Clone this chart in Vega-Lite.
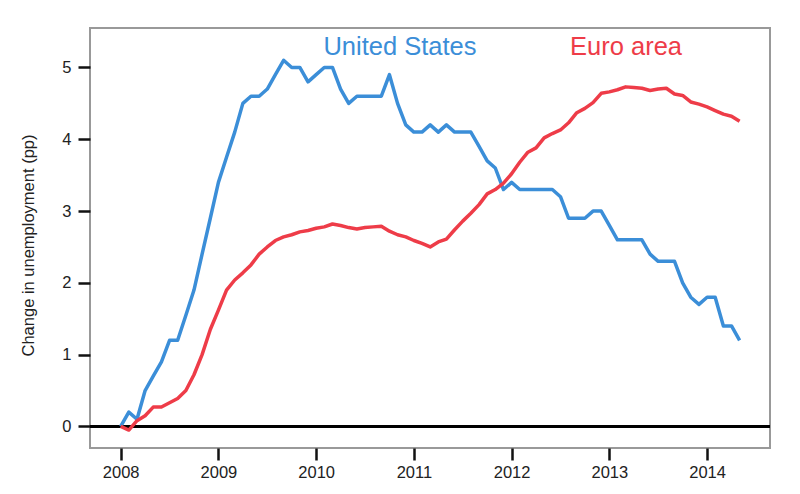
{
  "$schema": "https://vega.github.io/schema/vega-lite/v6.json",
  "autosize": {"type": "none"},
  "width": 680,
  "height": 420,
  "padding": {"left": 90, "top": 28, "right": 30, "bottom": 46},
  "background": "white",
  "config": {
    "font": "Liberation Sans",
    "view": {"stroke": "#999999", "strokeWidth": 2},
    "axis": {"grid": false, "domain": false, "tickColor": "#111111", "tickWidth": 2.5, "tickSize": 12, "labelFontSize": 16.5, "labelColor": "#222222", "labelFont": "Liberation Sans", "titleFont": "Liberation Sans", "titleFontWeight": "normal", "titleColor": "#222222"}
  },
  "datasets": {
    "series": [
      {"date": 2008.000, "country": "United States", "value": 0},
      {"date": 2008.083, "country": "United States", "value": 0.2},
      {"date": 2008.167, "country": "United States", "value": 0.1},
      {"date": 2008.250, "country": "United States", "value": 0.5},
      {"date": 2008.333, "country": "United States", "value": 0.7},
      {"date": 2008.417, "country": "United States", "value": 0.9},
      {"date": 2008.500, "country": "United States", "value": 1.2},
      {"date": 2008.583, "country": "United States", "value": 1.2},
      {"date": 2008.667, "country": "United States", "value": 1.55},
      {"date": 2008.750, "country": "United States", "value": 1.9},
      {"date": 2008.833, "country": "United States", "value": 2.4},
      {"date": 2008.917, "country": "United States", "value": 2.9},
      {"date": 2009.000, "country": "United States", "value": 3.4},
      {"date": 2009.083, "country": "United States", "value": 3.75},
      {"date": 2009.167, "country": "United States", "value": 4.1},
      {"date": 2009.250, "country": "United States", "value": 4.5},
      {"date": 2009.333, "country": "United States", "value": 4.6},
      {"date": 2009.417, "country": "United States", "value": 4.6},
      {"date": 2009.500, "country": "United States", "value": 4.7},
      {"date": 2009.583, "country": "United States", "value": 4.9},
      {"date": 2009.667, "country": "United States", "value": 5.1},
      {"date": 2009.750, "country": "United States", "value": 5.0},
      {"date": 2009.833, "country": "United States", "value": 5.0},
      {"date": 2009.917, "country": "United States", "value": 4.8},
      {"date": 2010.000, "country": "United States", "value": 4.9},
      {"date": 2010.083, "country": "United States", "value": 5.0},
      {"date": 2010.167, "country": "United States", "value": 5.0},
      {"date": 2010.250, "country": "United States", "value": 4.7},
      {"date": 2010.333, "country": "United States", "value": 4.5},
      {"date": 2010.417, "country": "United States", "value": 4.6},
      {"date": 2010.500, "country": "United States", "value": 4.6},
      {"date": 2010.583, "country": "United States", "value": 4.6},
      {"date": 2010.667, "country": "United States", "value": 4.6},
      {"date": 2010.750, "country": "United States", "value": 4.9},
      {"date": 2010.833, "country": "United States", "value": 4.5},
      {"date": 2010.917, "country": "United States", "value": 4.2},
      {"date": 2011.000, "country": "United States", "value": 4.1},
      {"date": 2011.083, "country": "United States", "value": 4.1},
      {"date": 2011.167, "country": "United States", "value": 4.2},
      {"date": 2011.250, "country": "United States", "value": 4.1},
      {"date": 2011.333, "country": "United States", "value": 4.2},
      {"date": 2011.417, "country": "United States", "value": 4.1},
      {"date": 2011.500, "country": "United States", "value": 4.1},
      {"date": 2011.583, "country": "United States", "value": 4.1},
      {"date": 2011.667, "country": "United States", "value": 3.9},
      {"date": 2011.750, "country": "United States", "value": 3.7},
      {"date": 2011.833, "country": "United States", "value": 3.6},
      {"date": 2011.917, "country": "United States", "value": 3.3},
      {"date": 2012.000, "country": "United States", "value": 3.4},
      {"date": 2012.083, "country": "United States", "value": 3.3},
      {"date": 2012.167, "country": "United States", "value": 3.3},
      {"date": 2012.250, "country": "United States", "value": 3.3},
      {"date": 2012.333, "country": "United States", "value": 3.3},
      {"date": 2012.417, "country": "United States", "value": 3.3},
      {"date": 2012.500, "country": "United States", "value": 3.2},
      {"date": 2012.583, "country": "United States", "value": 2.9},
      {"date": 2012.667, "country": "United States", "value": 2.9},
      {"date": 2012.750, "country": "United States", "value": 2.9},
      {"date": 2012.833, "country": "United States", "value": 3.0},
      {"date": 2012.917, "country": "United States", "value": 3.0},
      {"date": 2013.000, "country": "United States", "value": 2.8},
      {"date": 2013.083, "country": "United States", "value": 2.6},
      {"date": 2013.167, "country": "United States", "value": 2.6},
      {"date": 2013.250, "country": "United States", "value": 2.6},
      {"date": 2013.333, "country": "United States", "value": 2.6},
      {"date": 2013.417, "country": "United States", "value": 2.4},
      {"date": 2013.500, "country": "United States", "value": 2.3},
      {"date": 2013.583, "country": "United States", "value": 2.3},
      {"date": 2013.667, "country": "United States", "value": 2.3},
      {"date": 2013.750, "country": "United States", "value": 2.0},
      {"date": 2013.833, "country": "United States", "value": 1.8},
      {"date": 2013.917, "country": "United States", "value": 1.7},
      {"date": 2014.000, "country": "United States", "value": 1.8},
      {"date": 2014.083, "country": "United States", "value": 1.8},
      {"date": 2014.167, "country": "United States", "value": 1.4},
      {"date": 2014.250, "country": "United States", "value": 1.4},
      {"date": 2014.333, "country": "United States", "value": 1.2},
      {"date": 2008.000, "country": "Euro area", "value": 0},
      {"date": 2008.083, "country": "Euro area", "value": -0.05},
      {"date": 2008.167, "country": "Euro area", "value": 0.08},
      {"date": 2008.250, "country": "Euro area", "value": 0.15},
      {"date": 2008.333, "country": "Euro area", "value": 0.27},
      {"date": 2008.417, "country": "Euro area", "value": 0.27},
      {"date": 2008.500, "country": "Euro area", "value": 0.33},
      {"date": 2008.583, "country": "Euro area", "value": 0.39},
      {"date": 2008.667, "country": "Euro area", "value": 0.5},
      {"date": 2008.750, "country": "Euro area", "value": 0.72},
      {"date": 2008.833, "country": "Euro area", "value": 1.0},
      {"date": 2008.917, "country": "Euro area", "value": 1.35},
      {"date": 2009.000, "country": "Euro area", "value": 1.62},
      {"date": 2009.083, "country": "Euro area", "value": 1.9},
      {"date": 2009.167, "country": "Euro area", "value": 2.04},
      {"date": 2009.250, "country": "Euro area", "value": 2.14},
      {"date": 2009.333, "country": "Euro area", "value": 2.25},
      {"date": 2009.417, "country": "Euro area", "value": 2.4},
      {"date": 2009.500, "country": "Euro area", "value": 2.5},
      {"date": 2009.583, "country": "Euro area", "value": 2.59},
      {"date": 2009.667, "country": "Euro area", "value": 2.64},
      {"date": 2009.750, "country": "Euro area", "value": 2.67},
      {"date": 2009.833, "country": "Euro area", "value": 2.71},
      {"date": 2009.917, "country": "Euro area", "value": 2.73},
      {"date": 2010.000, "country": "Euro area", "value": 2.76},
      {"date": 2010.083, "country": "Euro area", "value": 2.78},
      {"date": 2010.167, "country": "Euro area", "value": 2.82},
      {"date": 2010.250, "country": "Euro area", "value": 2.8},
      {"date": 2010.333, "country": "Euro area", "value": 2.77},
      {"date": 2010.417, "country": "Euro area", "value": 2.75},
      {"date": 2010.500, "country": "Euro area", "value": 2.77},
      {"date": 2010.583, "country": "Euro area", "value": 2.78},
      {"date": 2010.667, "country": "Euro area", "value": 2.79},
      {"date": 2010.750, "country": "Euro area", "value": 2.72},
      {"date": 2010.833, "country": "Euro area", "value": 2.67},
      {"date": 2010.917, "country": "Euro area", "value": 2.64},
      {"date": 2011.000, "country": "Euro area", "value": 2.59},
      {"date": 2011.083, "country": "Euro area", "value": 2.55},
      {"date": 2011.167, "country": "Euro area", "value": 2.5},
      {"date": 2011.250, "country": "Euro area", "value": 2.57},
      {"date": 2011.333, "country": "Euro area", "value": 2.61},
      {"date": 2011.417, "country": "Euro area", "value": 2.74},
      {"date": 2011.500, "country": "Euro area", "value": 2.86},
      {"date": 2011.583, "country": "Euro area", "value": 2.97},
      {"date": 2011.667, "country": "Euro area", "value": 3.09},
      {"date": 2011.750, "country": "Euro area", "value": 3.24},
      {"date": 2011.833, "country": "Euro area", "value": 3.3},
      {"date": 2011.917, "country": "Euro area", "value": 3.39},
      {"date": 2012.000, "country": "Euro area", "value": 3.52},
      {"date": 2012.083, "country": "Euro area", "value": 3.68},
      {"date": 2012.167, "country": "Euro area", "value": 3.82},
      {"date": 2012.250, "country": "Euro area", "value": 3.88},
      {"date": 2012.333, "country": "Euro area", "value": 4.02},
      {"date": 2012.417, "country": "Euro area", "value": 4.08},
      {"date": 2012.500, "country": "Euro area", "value": 4.13},
      {"date": 2012.583, "country": "Euro area", "value": 4.23},
      {"date": 2012.667, "country": "Euro area", "value": 4.37},
      {"date": 2012.750, "country": "Euro area", "value": 4.43},
      {"date": 2012.833, "country": "Euro area", "value": 4.51},
      {"date": 2012.917, "country": "Euro area", "value": 4.64},
      {"date": 2013.000, "country": "Euro area", "value": 4.66},
      {"date": 2013.083, "country": "Euro area", "value": 4.69},
      {"date": 2013.167, "country": "Euro area", "value": 4.73},
      {"date": 2013.250, "country": "Euro area", "value": 4.72},
      {"date": 2013.333, "country": "Euro area", "value": 4.71},
      {"date": 2013.417, "country": "Euro area", "value": 4.68},
      {"date": 2013.500, "country": "Euro area", "value": 4.7},
      {"date": 2013.583, "country": "Euro area", "value": 4.71},
      {"date": 2013.667, "country": "Euro area", "value": 4.63},
      {"date": 2013.750, "country": "Euro area", "value": 4.61},
      {"date": 2013.833, "country": "Euro area", "value": 4.52},
      {"date": 2013.917, "country": "Euro area", "value": 4.49},
      {"date": 2014.000, "country": "Euro area", "value": 4.45},
      {"date": 2014.083, "country": "Euro area", "value": 4.4},
      {"date": 2014.167, "country": "Euro area", "value": 4.35},
      {"date": 2014.250, "country": "Euro area", "value": 4.32},
      {"date": 2014.333, "country": "Euro area", "value": 4.25}
    ],
    "labels": [
      {"date": 2010.858, "country": "United States", "value": 5.17},
      {"date": 2013.171, "country": "Euro area", "value": 5.17}
    ]
  },
  "encoding": {
    "x": {"field": "date", "type": "quantitative", "scale": {"domain": [2007.686, 2014.644], "nice": false, "zero": false},
      "axis": {"values": [2008, 2009, 2010, 2011, 2012, 2013, 2014], "format": "d", "title": null, "labelPadding": 4}},
    "y": {"field": "value", "type": "quantitative", "scale": {"domain": [-0.3, 5.55], "nice": false, "zero": false},
      "axis": {"values": [0, 1, 2, 3, 4, 5], "format": "d", "title": "Change in unemployment (pp)", "titleFontSize": 16.5, "titlePadding": 25, "titleY": 217, "labelPadding": 7}}
  },
  "layer": [
    {
      "data": {"values": [{"zero": 0}]},
      "mark": {"type": "rule", "color": "#000000", "strokeWidth": 3},
      "encoding": {"y": {"field": "zero", "type": "quantitative"}, "x": null}
    },
    {
      "data": {"name": "series"},
      "mark": {"type": "line", "strokeWidth": 3.5, "strokeJoin": "round", "clip": true},
      "encoding": {
        "color": {"field": "country", "type": "nominal", "scale": {"domain": ["United States", "Euro area"], "range": ["#3b8ed8", "#ee3c48"]}, "legend": null}
      }
    },
    {
      "data": {"name": "labels"},
      "mark": {"type": "text", "fontSize": 25.5, "align": "center", "baseline": "alphabetic", "font": "Liberation Sans"},
      "encoding": {
        "text": {"field": "country"},
        "color": {"field": "country", "type": "nominal", "scale": {"domain": ["United States", "Euro area"], "range": ["#3b8ed8", "#ee3c48"]}, "legend": null}
      }
    }
  ]
}
